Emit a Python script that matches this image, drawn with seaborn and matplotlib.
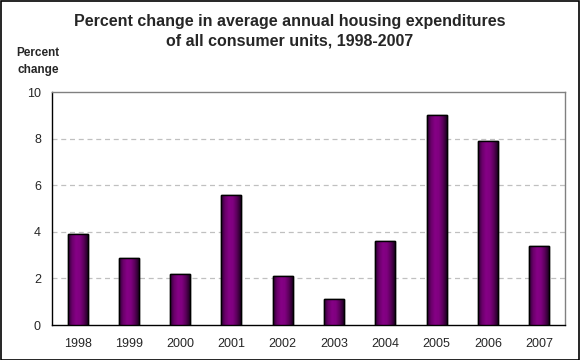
import matplotlib
matplotlib.use('Agg')
import matplotlib.pyplot as plt
import numpy as np
import pandas as pd
import seaborn as sns
from matplotlib.colors import LinearSegmentedColormap
from matplotlib.patches import Rectangle

years = ['1998', '1999', '2000', '2001', '2002', '2003', '2004', '2005', '2006', '2007']
pct_change = [3.9, 2.9, 2.2, 5.6, 2.1, 1.1, 3.6, 9.0, 7.9, 3.4]
y_ticks = [0, 2, 4, 6, 8, 10]

df = pd.DataFrame({'Year': years, 'Change': pct_change})

sns.set_style('white')
plt.rcParams['font.family'] = ['Liberation Sans', 'DejaVu Sans']

fig = plt.figure(figsize=(5.8, 3.6), dpi=100)
ax = fig.add_axes([0.0897, 0.097, 0.884, 0.647])

sns.barplot(x='Year', y='Change', data=df, color='#800080', width=0.39,
            edgecolor='black', linewidth=1.0, ax=ax, zorder=3)

# gradient fill across each bar (dark edges, purple middle)
grad_cmap = LinearSegmentedColormap.from_list(
    'bar', ['#2a0030', '#6a006a', '#850085', '#800080', '#5a005a', '#200024'])
grad = np.linspace(0, 1, 64).reshape(1, -1)
for p in ax.patches:
    x0, y0 = p.get_x(), p.get_y()
    w, h = p.get_width(), p.get_height()
    im = ax.imshow(grad, cmap=grad_cmap, aspect='auto',
                   extent=[x0, x0 + w, y0, y0 + h], zorder=3.5)
    im.set_clip_path(p)
    ax.add_patch(Rectangle((x0, y0), w, h, fill=False, edgecolor='black',
                           linewidth=1.0, zorder=4))

ax.set_xlim(-0.5, len(years) - 0.5)
ax.set_ylim(0, 10)
ax.set_yticks(y_ticks)
ax.set_yticklabels([str(t) for t in y_ticks], fontsize=9)
ax.set_xticks(range(len(years)))
ax.set_xticklabels(years, fontsize=9)
ax.tick_params(axis='x', length=0, pad=9)
ax.set_xticks(np.arange(-0.5, len(years), 1), minor=True)
ax.tick_params(axis='x', which='minor', length=4, width=1, direction='out', color='black')
ax.tick_params(axis='y', length=4, width=1, direction='out', color='black', pad=4)

for t in [2, 4, 6, 8]:
    ax.axhline(t, color='#c0c0c0', linestyle=(0, (4, 3)), linewidth=0.9, zorder=1)

ax.set_xlabel('')
ax.set_ylabel('')
for side in ['left', 'bottom']:
    ax.spines[side].set_color('black')
    ax.spines[side].set_linewidth(1.0)
for side in ['top', 'right']:
    ax.spines[side].set_visible(True)
    ax.spines[side].set_color('#808080')
    ax.spines[side].set_linewidth(1.0)

fig.text(0.5, 0.9125, 'Percent change in average annual housing expenditures\nof all consumer units, 1998-2007',
         ha='center', va='center', fontsize=11.5, fontweight='bold', linespacing=1.35)
fig.text(0.066, 0.83, 'Percent\nchange', ha='center', va='center', fontsize=8.5,
         fontweight='bold', linespacing=1.6)

fig.patches.append(Rectangle((0.001, 0.001), 0.997, 0.996, transform=fig.transFigure,
                             fill=False, edgecolor='black', linewidth=1.2))

fig.savefig('out.png', dpi=100)
